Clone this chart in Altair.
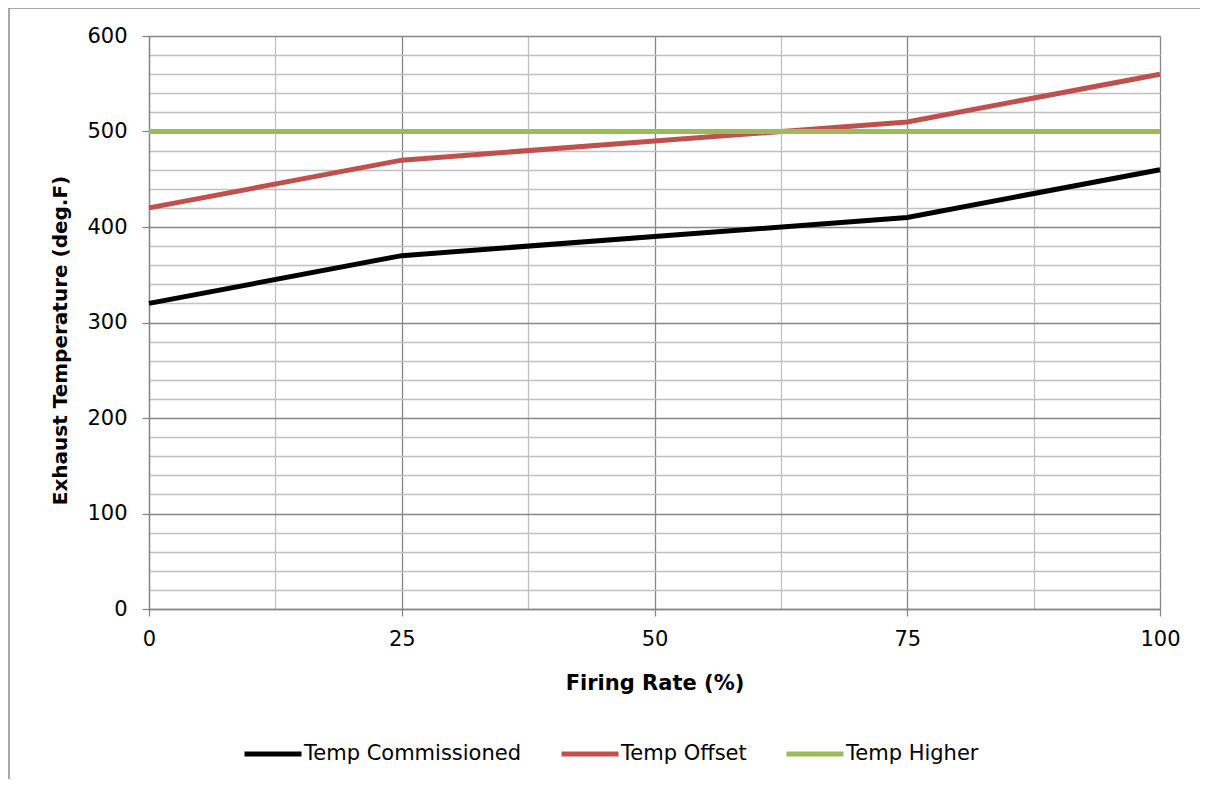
import altair as alt
import pandas as pd

firing_rate = [0, 25, 50, 75, 100]
temp_commissioned = [320, 370, 390, 410, 460]
temp_offset = [420, 470, 490, 510, 560]
temp_higher = [500, 500, 500, 500, 500]

series_names = ["Temp Commissioned", "Temp Offset", "Temp Higher"]
series_colors = ["#000000", "#C0504D", "#9BBB59"]

x_ticks = [0, 12.5, 25, 37.5, 50, 62.5, 75, 87.5, 100]
y_ticks = [0, 20, 40, 60, 80, 100, 120, 140, 160, 180, 200, 220, 240, 260, 280,
           300, 320, 340, 360, 380, 400, 420, 440, 460, 480, 500, 520, 540, 560, 580, 600]

rows = []
for name, vals in zip(series_names, [temp_commissioned, temp_offset, temp_higher]):
    for x, v in zip(firing_rate, vals):
        rows.append({"rate": x, "temp": v, "series": name})
df = pd.DataFrame(rows)

MAJOR = "#878787"
MINOR = "#c0c0c0"
FONT = "DejaVu Sans"

x_axis = alt.Axis(
    values=x_ticks,
    labelExpr="datum.value % 25 === 0 ? datum.label : ''",
    labelFlush=False,
    grid=True,
    gridColor={"condition": {"test": "datum.value % 25 === 0", "value": MAJOR}, "value": MINOR},
    gridWidth=1.3,
    tickColor={"condition": {"test": "datum.value % 25 === 0", "value": MAJOR}, "value": "transparent"},
    tickSize=7,
    tickWidth=1.3,
    domainColor=MAJOR,
    domainWidth=1.3,
    labelFontSize=21,
    labelColor="#000000",
    labelPadding=12,
    labelFont=FONT,
    title="Firing Rate (%)",
    titleFontSize=21,
    titleFontWeight="bold",
    titleFont=FONT,
    titleColor="#000000",
    titleY=74,
    titleBaseline="middle",
)

y_axis = alt.Axis(
    values=y_ticks,
    labelExpr="datum.value % 100 === 0 ? datum.label : ''",
    grid=True,
    gridColor={"condition": {"test": "datum.value % 100 === 0", "value": MAJOR}, "value": MINOR},
    gridWidth=1.3,
    tickColor={"condition": {"test": "datum.value % 100 === 0", "value": MAJOR}, "value": "transparent"},
    tickSize=7,
    tickWidth=1.3,
    domainColor=MAJOR,
    domainWidth=1.3,
    labelFontSize=21,
    labelColor="#000000",
    labelPadding=15,
    labelFont=FONT,
    title="Exhaust Temperature (deg.F)",
    titleFontSize=20,
    titleFontWeight="bold",
    titleFont=FONT,
    titleColor="#000000",
    titleAngle=270,
    titleAlign="center",
    titleBaseline="middle",
    titleX=-89,
    titleY=304,
)

border = alt.Chart(pd.DataFrame({"a": [0]})).mark_rect(
    fill="transparent", stroke="#8c8c8c", strokeWidth=1.5
).encode(
    x=alt.value(-140), x2=alt.value(1100),
    y=alt.value(-28), y2=alt.value(900),
)

lines = alt.Chart(df).mark_line(strokeWidth=5).encode(
    x=alt.X("rate:Q", scale=alt.Scale(domain=[0, 100], nice=False), axis=x_axis),
    y=alt.Y("temp:Q", scale=alt.Scale(domain=[0, 600], nice=False), axis=y_axis),
    color=alt.Color(
        "series:N",
        scale=alt.Scale(domain=series_names, range=series_colors),
        legend=alt.Legend(
            title=None,
            orient="none",
            direction="horizontal",
            legendX=93,
            legendY=687,
            symbolType="stroke",
            symbolSize=3249,
            symbolStrokeWidth=5,
            labelFontSize=21,
            labelFont=FONT,
            labelColor="#000000",
            labelOffset=0,
            labelLimit=0,
            columnPadding=29,
        ),
    ),
)

chart = alt.layer(border, lines).properties(
    width=1011,
    height=573,
    autosize=alt.AutoSizeParams(type="none"),
    padding={"left": 141, "top": 28, "right": 40, "bottom": 170},
).configure_view(stroke=None).configure(background="white")

chart.save("out.html", embed_options={"renderer": "svg", "actions": False})
